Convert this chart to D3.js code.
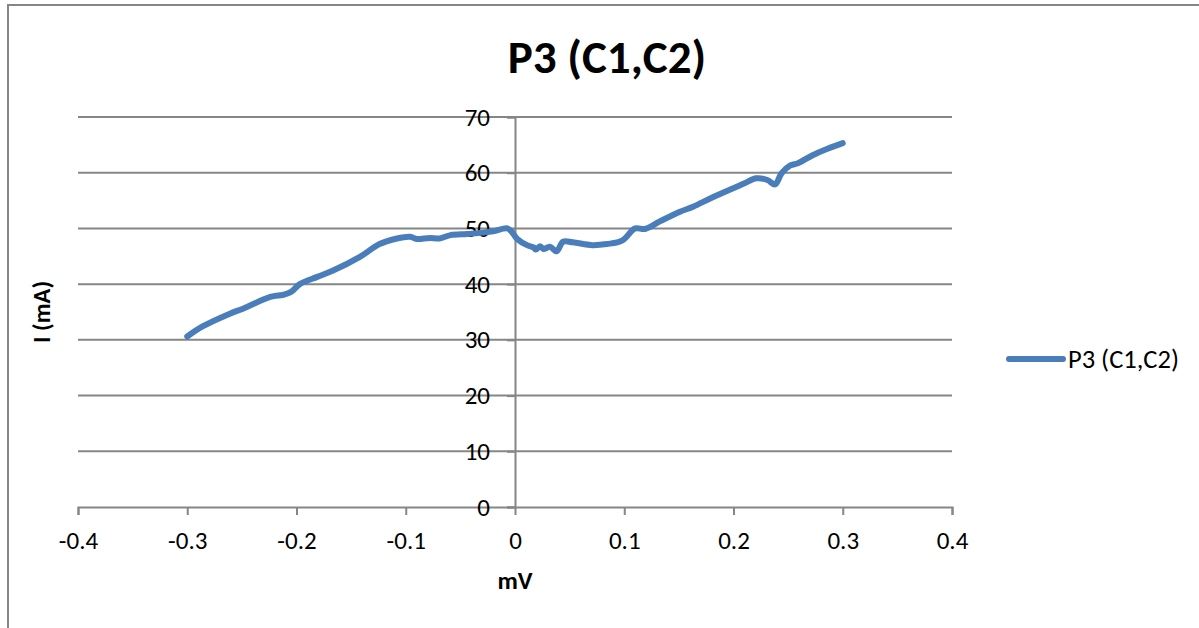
<!DOCTYPE html>
<html>
<head>
<meta charset="utf-8">
<script src="https://cdn.jsdelivr.net/npm/d3@7"></script>
<style>
  body { margin: 0; background: #fff; }
  svg { display: block; font-family: Carlito, Calibri, Lato, sans-serif; }
</style>
</head>
<body>
<svg id="chart"></svg>
<script>
// values
let seriesName = "P3 (C1,C2)"
let voltage = [-0.300, -0.286, -0.261, -0.249, -0.224, -0.212, -0.205, -0.197, -0.181, -0.167,
    -0.142, -0.124, -0.108, -0.096, -0.090, -0.078, -0.069, -0.059, -0.044, -0.032,
    -0.020, -0.007, -0.003, 0.002, 0.011, 0.017, 0.019, 0.023, 0.026, 0.032,
    0.038, 0.044, 0.053, 0.071, 0.084, 0.098, 0.110, 0.119, 0.133, 0.151,
    0.163, 0.181, 0.209, 0.221, 0.231, 0.238, 0.244, 0.252, 0.259, 0.272,
    0.286, 0.300]
let current = [30.6, 32.4, 34.7, 35.6, 37.7, 38.1, 38.6, 40.0, 41.3, 42.4,
    44.9, 47.2, 48.2, 48.5, 48.1, 48.3, 48.2, 48.8, 49.0, 49.2,
    49.5, 50.0, 49.4, 48.1, 47.0, 46.6, 46.2, 46.8, 46.3, 46.7,
    45.9, 47.6, 47.5, 47.0, 47.2, 47.8, 50.0, 49.9, 51.3, 53.0,
    53.9, 55.6, 58.0, 59.0, 58.7, 57.9, 59.9, 61.3, 61.7, 63.1,
    64.3, 65.3]
let xTicks = [-0.4, -0.3, -0.2, -0.1, 0, 0.1, 0.2, 0.3, 0.4]
let yTicks = [0, 10, 20, 30, 40, 50, 60, 70]

let W = 1199, H = 628
let plot = {left: 78, right: 952, top: 117, bottom: 507}
let gray = "#868686", blue = "#4a7ebb"
let font = "Carlito, Calibri, Lato, sans-serif"

let svg = d3.select("svg#chart")
    .attr("width", W)
    .attr("height", H)

// outer frame (only top and left visible)
svg.append("path")
    .attr("d", "M8,628 V5 H1199")
    .attr("fill", "none")
    .attr("stroke", gray)
    .attr("stroke-width", 2)

let xScale = d3.scaleLinear().domain([-0.4, 0.4]).range([plot.left, plot.right])
let yScale = d3.scaleLinear().domain([0, 70]).range([plot.bottom, plot.top])

// horizontal gridlines
svg.append("g")
    .selectAll("line")
    .data(yTicks.filter((d) => d !== 0))
    .enter().append("line")
    .attr("x1", plot.left)
    .attr("x2", plot.right)
    .attr("y1", (d) => yScale(d))
    .attr("y2", (d) => yScale(d))
    .attr("stroke", gray)
    .attr("stroke-width", 2)

// x axis at y = 0
let xAxis = svg.append("g")
    .attr("transform", "translate(0," + yScale(0) + ")")
    .call(d3.axisBottom(xScale).tickValues(xTicks).tickSize(8).tickPadding(16)
        .tickFormat((d) => String(d)))
xAxis.select(".domain").attr("stroke", gray).attr("stroke-width", 2)
xAxis.selectAll(".tick line").attr("stroke", gray).attr("stroke-width", 2)
xAxis.selectAll(".tick text")
    .attr("fill", "#000")
    .style("font-size", "25px")
    .style("font-family", font)

// y axis at x = 0
let yAxis = svg.append("g")
    .attr("transform", "translate(" + xScale(0) + ",0)")
    .call(d3.axisLeft(yScale).tickValues(yTicks).tickSize(8).tickPadding(17))
yAxis.select(".domain").attr("stroke", gray).attr("stroke-width", 2)
yAxis.selectAll(".tick line").attr("stroke", gray).attr("stroke-width", 2)
yAxis.selectAll(".tick text")
    .attr("fill", "#000")
    .style("font-size", "25px")
    .style("font-family", font)

// series line
let pts = voltage.map((v, i) => [v, current[i]])
svg.append("path")
    .datum(pts)
    .attr("fill", "none")
    .attr("stroke", blue)
    .attr("stroke-width", 6)
    .attr("stroke-linecap", "round")
    .attr("stroke-linejoin", "round")
    .attr("d", d3.line()
        .x((d) => xScale(d[0]))
        .y((d) => yScale(d[1]))
        .curve(d3.curveCatmullRom.alpha(0.5)))

// title
svg.append("text")
    .attr("x", 607)
    .attr("y", 73)
    .attr("text-anchor", "middle")
    .style("font-size", "47px")
    .style("font-weight", "bold")
    .text(seriesName)

// axis titles
svg.append("text")
    .attr("x", xScale(0))
    .attr("y", 589)
    .attr("text-anchor", "middle")
    .style("font-size", "25px")
    .style("font-weight", "bold")
    .text("mV")

svg.append("text")
    .attr("transform", "translate(50," + yScale(35) + ") rotate(-90)")
    .attr("text-anchor", "middle")
    .style("font-size", "24.5px")
    .style("font-weight", "bold")
    .text("I (mA)")

// legend
let legend = svg.append("g").attr("transform", "translate(1009,359)")
legend.append("line")
    .attr("x1", 0)
    .attr("x2", 54)
    .attr("stroke", blue)
    .attr("stroke-width", 6)
    .attr("stroke-linecap", "round")
legend.append("text")
    .attr("x", 59)
    .attr("y", 9)
    .style("font-size", "26.5px")
    .text(seriesName)
</script>
</body>
</html>
